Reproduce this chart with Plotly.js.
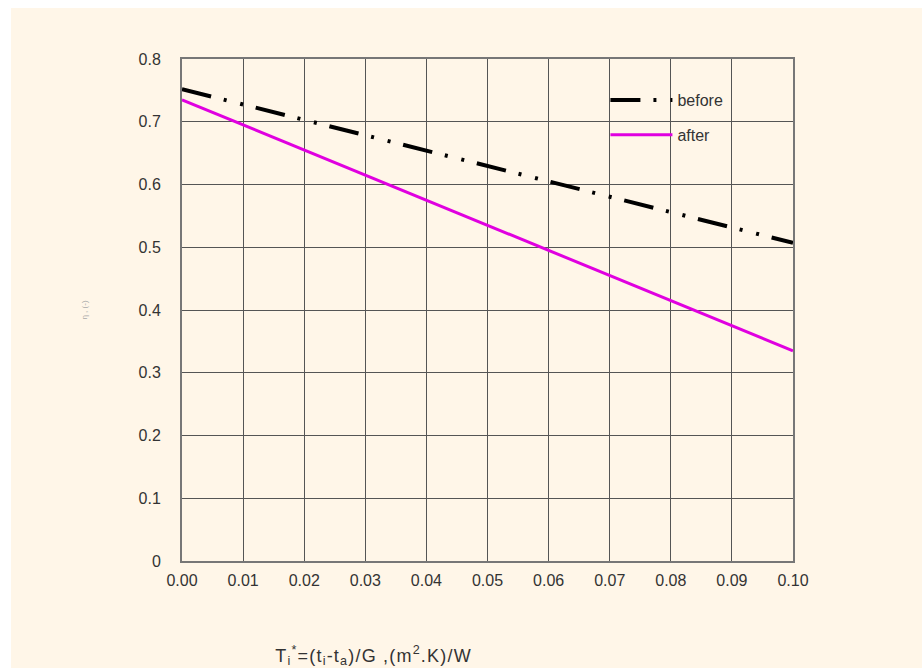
<!DOCTYPE html>
<html>
<head>
<meta charset="utf-8">
<script src="https://cdn.plot.ly/plotly-3.0.1.min.js"></script>
<style>
html,body{margin:0;padding:0;background:#ffffff;width:922px;height:668px;overflow:hidden;}
#chart{position:absolute;left:11px;top:8px;width:911px;height:660px;}
#chart .annotation-text{letter-spacing:1.2px;}
</style>
</head>
<body>
<div id="chart"></div>
<script>
var xValues = [0.00, 0.10];
var beforeValues = [0.752, 0.507];
var afterValues = [0.735, 0.335];
var xTicks = [0.00, 0.01, 0.02, 0.03, 0.04, 0.05, 0.06, 0.07, 0.08, 0.09, 0.10];
var xTickLabels = ["0.00","0.01","0.02","0.03","0.04","0.05","0.06","0.07","0.08","0.09","0.10"];
var yTicks = [0, 0.1, 0.2, 0.3, 0.4, 0.5, 0.6, 0.7, 0.8];
var yTickLabels = ["0","0.1","0.2","0.3","0.4","0.5","0.6","0.7","0.8"];

var traces = [
  {x: xValues, y: beforeValues, mode: 'lines', name: 'before', legendgroup: 'a',
   line: {color: '#000000', width: 4, dash: '30px,13px,3px,14px,3px,13px'}},
  {x: xValues, y: afterValues, mode: 'lines', name: 'after', legendgroup: 'b',
   line: {color: '#e000e0', width: 3}}
];

var layout = {
  width: 911, height: 660,
  paper_bgcolor: '#fff6e8', plot_bgcolor: '#fff6e8',
  margin: {l: 171, r: 129, t: 51, b: 107},
  font: {family: 'Liberation Sans, Arial, sans-serif', size: 16, color: '#333333'},
  showlegend: true,
  legend: {x: 0.693, y: 0.952, xanchor: 'left', yanchor: 'top', bgcolor: 'rgba(0,0,0,0)',
           font: {size: 16, color: '#333333'}, traceorder: 'grouped', tracegroupgap: 11, itemwidth: 62},
  xaxis: {range: [0, 0.10], tickvals: xTicks, ticktext: xTickLabels, showgrid: true,
          gridcolor: '#555555', gridwidth: 1, zeroline: false, showline: true, linecolor: '#777777',
          linewidth: 2, mirror: true, ticks: '', ticklen: 0, ticklabelstandoff: 4,
          tickfont: {size: 16, color: '#333333'}},
  yaxis: {range: [0, 0.8], tickvals: yTicks, ticktext: yTickLabels, showgrid: true,
          gridcolor: '#555555', gridwidth: 1, zeroline: false, showline: true, linecolor: '#777777',
          linewidth: 2, mirror: true, ticks: '', ticklen: 0, ticklabelstandoff: 16,
          tickfont: {size: 16, color: '#333333'},
          title: {text: 'η , (-)', font: {size: 8, color: '#aaaaaa'}, standoff: 50}},
  annotations: [
    {xref: 'paper', yref: 'paper', x: 0.314, y: -0.188, xanchor: 'center', yanchor: 'middle', showarrow: false,
     text: 'T<sub>i</sub><sup>*</sup>=(t<sub>i</sub>-t<sub>a</sub>)/G ,(m<sup>2</sup>.K)/W',
     font: {size: 18, color: '#333333'}}
  ]
};
Plotly.newPlot('chart', traces, layout, {displayModeBar: false, staticPlot: true});
</script>
</body>
</html>
